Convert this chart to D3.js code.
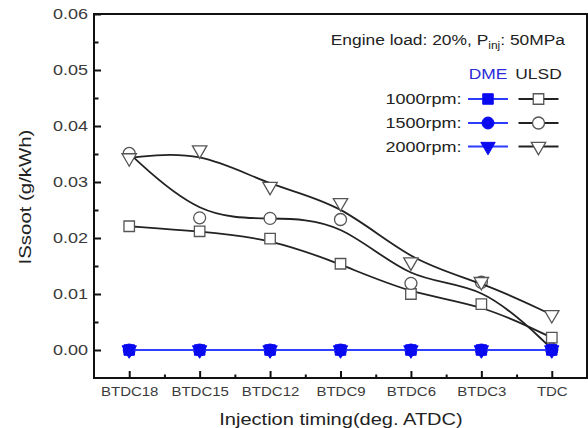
<!DOCTYPE html>
<html>
<head>
<meta charset="utf-8">
<script src="https://cdn.jsdelivr.net/npm/d3@7"></script>
<style>
  html, body { margin: 0; padding: 0; background: #fff; }
  svg { display: block; }
  text { font-family: "Liberation Sans", Arial, Helvetica, sans-serif; }
</style>
</head>
<body>
<svg id="chart" width="588" height="428"></svg>
<script>
// Injection timing categories
const categories = ["BTDC18", "BTDC15", "BTDC12", "BTDC9", "BTDC6", "BTDC3", "TDC"];

// ISsoot (g/kWh), ULSD fuel
const ulsd1000 = [0.0221, 0.0212, 0.0199, 0.0154, 0.0100, 0.0082, 0.0022];
const ulsd1500 = [0.0351, 0.0236, 0.0235, 0.0233, 0.0119, 0.0121, 0.0002];
const ulsd2000 = [0.0343, 0.0357, 0.0292, 0.0263, 0.0157, 0.0122, 0.0063];

// ISsoot (g/kWh), DME fuel
const dme1000 = [0, 0, 0, 0, 0, 0, 0];
const dme1500 = [0, 0, 0, 0, 0, 0, 0];
const dme2000 = [0, 0, 0, 0, 0, 0, 0];

const yTicks = [0.00, 0.01, 0.02, 0.03, 0.04, 0.05, 0.06];
const rpmLabels = ["1000rpm:", "1500rpm:", "2000rpm:"];

// ---------------------------------------------------------------
const svg = d3.select("#chart");
const W = 588, H = 428;
const plot = { left: 94, right: 587, top: 14, bottom: 378 };
const STRETCH = 1.2;           // wide lettering used throughout
const BLUE = "#0a0af0", BLUE_LINE = "#2b3cff", INK = "#222";

const x = d3.scaleLinear().domain([-0.5, categories.length - 0.5]).range([plot.left, plot.right]);
const y = d3.scaleLinear().domain([-0.005, 0.06]).range([plot.bottom, plot.top]);

svg.append("rect").attr("width", W).attr("height", H).attr("fill", "#fff");

// Axes with inward ticks
const axisStyle = g => {
  g.select(".domain").remove();
  g.selectAll(".tick line").attr("stroke", "#111").attr("stroke-width", 2);
  g.selectAll("text").attr("fill", "#3a3a3a").attr("font-family", "Liberation Sans, Arial, sans-serif");
};

const yAxis = svg.append("g").attr("transform", `translate(${plot.left},0)`)
  .call(d3.axisLeft(y).tickValues(yTicks).tickSize(-7).tickPadding(5).tickFormat(d3.format(".2f")))
  .call(axisStyle);
yAxis.selectAll("text").attr("font-size", 15)
  .attr("transform", `scale(${STRETCH},1)`);

svg.append("g").attr("transform", `translate(${plot.left},0)`)
  .call(d3.axisLeft(y).tickValues(d3.range(0.005, 0.06, 0.01)).tickSize(-4.5).tickFormat(""))
  .call(axisStyle);

const xAxis = svg.append("g").attr("transform", `translate(0,${plot.bottom})`)
  .call(d3.axisBottom(x).tickValues(d3.range(categories.length)).tickSize(-7).tickPadding(9)
    .tickFormat(i => categories[i]))
  .call(axisStyle);
xAxis.selectAll("text").attr("font-size", 12.5)
  .attr("transform", `scale(${STRETCH},1)`);

svg.append("g").attr("transform", `translate(0,${plot.bottom})`)
  .call(d3.axisBottom(x).tickValues(d3.range(0.5, categories.length - 1, 1)).tickSize(-3.5).tickFormat(""))
  .call(axisStyle);

// Frame
svg.append("rect")
  .attr("x", plot.left).attr("y", plot.top)
  .attr("width", plot.right - plot.left).attr("height", plot.bottom - plot.top)
  .attr("fill", "none").attr("stroke", "#111").attr("stroke-width", 2);

// Series
const shapes = {
  square: { type: d3.symbolSquare, size: 110, rot: 0 },
  circle: { type: d3.symbolCircle, size: 113, rot: 0 },
  down:   { type: d3.symbolTriangle, size: 90, rot: 180 }
};

const series = [
  { values: ulsd1000, shape: "square", fuel: "ULSD" },
  { values: ulsd1500, shape: "circle", fuel: "ULSD" },
  { values: ulsd2000, shape: "down",   fuel: "ULSD" },
  { values: dme1000,  shape: "square", fuel: "DME" },
  { values: dme1500,  shape: "circle", fuel: "DME" },
  { values: dme2000,  shape: "down",   fuel: "DME" }
];

const line = d3.line()
  .x((d, i) => x(i))
  .y(d => y(d))
  .curve(d3.curveBasis);

function markerStyle(sel, fuel) {
  if (fuel === "DME") sel.attr("fill", BLUE).attr("stroke", BLUE).attr("stroke-width", 1);
  else sel.attr("fill", "#fff").attr("stroke", "#555").attr("stroke-width", 1.3);
}

function drawMarker(g, shapeKey, fuel, cx, cy) {
  const s = shapes[shapeKey];
  g.append("path")
    .attr("d", d3.symbol().type(s.type).size(s.size)())
    .attr("transform", `translate(${cx},${cy}) rotate(${s.rot})`)
    .call(markerStyle, fuel);
}

const gSeries = svg.append("g");
series.forEach(s => {
  const g = gSeries.append("g");
  g.append("path")
    .datum(s.values)
    .attr("d", line)
    .attr("fill", "none")
    .attr("stroke", s.fuel === "DME" ? BLUE_LINE : INK)
    .attr("stroke-width", s.fuel === "DME" ? 1.6 : 1.8);
  s.values.forEach((v, i) => drawMarker(g, s.shape, s.fuel, x(i), y(v)));
});

// Text helper: wide lettering anchored at (tx, ty)
function label(parent, tx, ty, anchor, size, fill, str, rotate) {
  const t = parent.append("text")
    .attr("transform", `translate(${tx},${ty})${rotate ? ` rotate(${rotate})` : ""} scale(${STRETCH},1)`)
    .attr("text-anchor", anchor)
    .attr("font-size", size)
    .attr("fill", fill);
  if (str !== null) t.text(str);
  return t;
}

// Axis titles
label(svg, 341, 425, "middle", 16.7, INK, "Injection timing(deg. ATDC)");
label(svg, 31, 197, "middle", 17, INK, "ISsoot (g/kWh)", -90);

// Condition note
const note = label(svg, 565, 45, "end", 14.5, INK, null);
note.append("tspan").text("Engine load: 20%, P");
note.append("tspan").attr("font-size", 10).attr("dy", 4).text("inj");
note.append("tspan").attr("dy", -4).text(": 50MPa");

// Legend
const leg = svg.append("g");
const colDME = 488, colULSD = 538.5, halfLen = 20;
label(leg, colDME, 79, "middle", 14.5, "#2a2ad8", "DME");
label(leg, colULSD, 79, "middle", 14.5, INK, "ULSD");
const rowY = [99, 123, 146.5];
const rowShapes = ["square", "circle", "down"];
rpmLabels.forEach((txt, r) => {
  label(leg, 461.5, rowY[r] + 5, "end", 15, INK, txt);
  [[colDME, "DME"], [colULSD, "ULSD"]].forEach(([cx, fuel]) => {
    leg.append("line")
      .attr("x1", cx - halfLen).attr("x2", cx + halfLen)
      .attr("y1", rowY[r]).attr("y2", rowY[r])
      .attr("stroke", fuel === "DME" ? BLUE_LINE : INK)
      .attr("stroke-width", fuel === "DME" ? 2 : 1.8);
    drawMarker(leg, rowShapes[r], fuel, cx, rowY[r]);
  });
});
</script>
</body>
</html>
